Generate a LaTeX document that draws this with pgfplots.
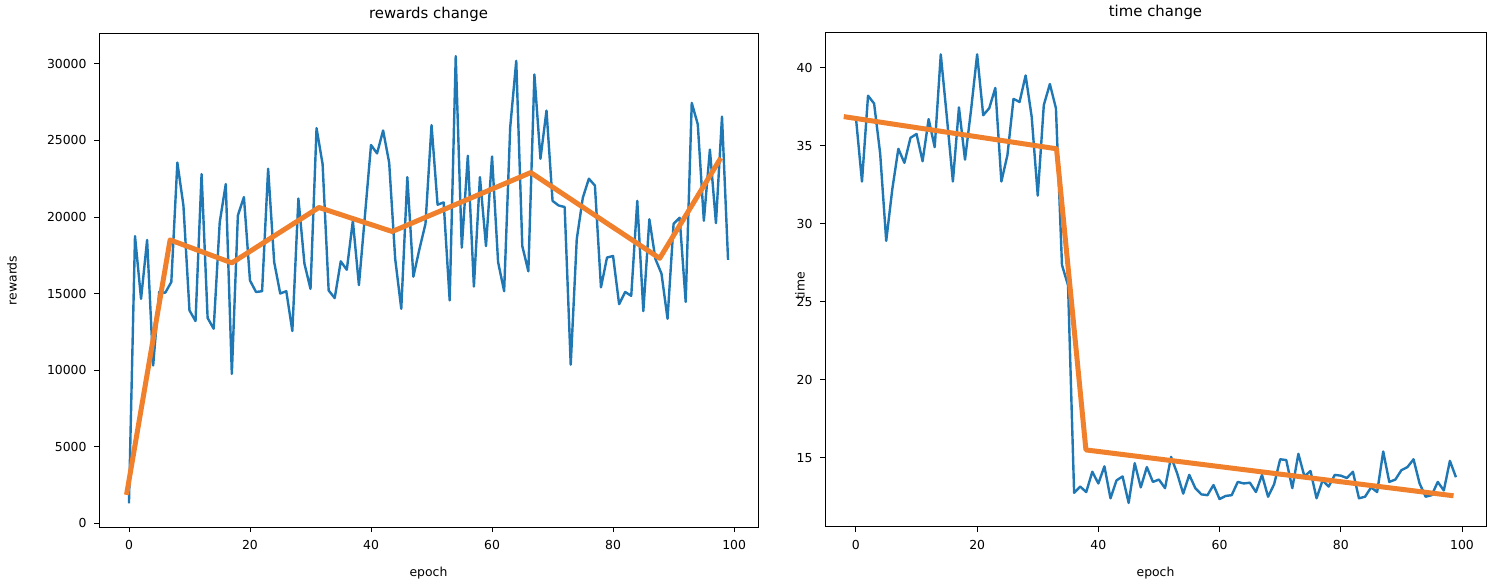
\documentclass[border=0pt]{standalone}
\usepackage{fontspec}
\setmainfont{DejaVu Sans}
\usepackage{pgfplots}
\pgfplotsset{compat=1.18}
\definecolor{mplblue}{HTML}{1F77B4}
\definecolor{mplorange}{RGB}{240,128,44}

% reward per epoch
\pgfplotstableread{
x y
0 1300
1 18750
2 14650
3 18500
4 10300
5 15100
6 15050
7 15750
8 23550
9 20750
10 13900
11 13200
12 22800
13 13400
14 12700
15 19650
16 22150
17 9750
18 20100
19 21300
20 15850
21 15100
22 15150
23 23150
24 17050
25 15000
26 15150
27 12550
28 21200
29 16950
30 15300
31 25800
32 23450
33 15200
34 14700
35 17100
36 16550
37 19750
38 15550
39 20100
40 24700
41 24150
42 25650
43 23550
44 17250
45 14000
46 22600
47 16100
48 17900
49 19550
50 26000
51 20800
52 20950
53 14550
54 30500
55 18000
56 24000
57 15450
58 22600
59 18100
60 23950
61 17050
62 15150
63 25850
64 30200
65 18100
66 16450
67 29300
68 23800
69 26950
70 21050
71 20750
72 20650
73 10350
74 18550
75 21250
76 22500
77 22050
78 15400
79 17350
80 17450
81 14300
82 15100
83 14850
84 21050
85 13850
86 19850
87 17250
88 16300
89 13350
90 19550
91 19950
92 14450
93 27450
94 26050
95 19750
96 24400
97 19600
98 26550
99 17200
}\rewards

% time per epoch
\pgfplotstableread{
x y
0 36.8
1 32.7
2 38.2
3 37.7
4 34.5
5 28.9
6 32.2
7 34.8
8 33.9
9 35.5
10 35.75
11 34.0
12 36.7
13 34.9
14 40.85
15 36.85
16 32.7
17 37.45
18 34.1
19 37.3
20 40.85
21 36.95
22 37.4
23 38.7
24 32.7
25 34.4
26 38.0
27 37.8
28 39.5
29 36.85
30 31.8
31 37.6
32 38.95
33 37.4
34 27.35
35 26.05
36 12.75
37 13.15
38 12.8
39 14.1
40 13.35
41 14.45
42 12.4
43 13.55
44 13.8
45 12.1
46 14.65
47 13.1
48 14.4
49 13.45
50 13.6
51 13.05
52 15.05
53 14.0
54 12.7
55 13.9
56 13.05
57 12.65
58 12.6
59 13.25
60 12.35
61 12.55
62 12.6
63 13.45
64 13.35
65 13.4
66 12.8
67 13.9
68 12.5
69 13.3
70 14.9
71 14.85
72 13.05
73 15.25
74 13.8
75 14.15
76 12.4
77 13.55
78 13.15
79 13.9
80 13.85
81 13.7
82 14.1
83 12.4
84 12.5
85 13.1
86 12.8
87 15.4
88 13.45
89 13.6
90 14.2
91 14.4
92 14.9
93 13.35
94 12.5
95 12.6
96 13.45
97 12.9
98 14.8
99 13.75
}\times

\pgfplotsset{
  mpl/.style={
    scale only axis,
    axis line style={black, line width=1bp},
    tick align=outside,
    tick pos=left,
    major tick length=5bp,
    tick style={black, line width=0.9bp},
    xtick={0,20,...,100},
    ticklabel style={font=\fontsize{12.4bp}{15bp}\selectfont},
    xticklabel style={yshift=-5bp},
    yticklabel style={xshift=-4bp},
    /pgf/number format/assume math mode=true,
    /pgf/number format/1000 sep={},
    scaled ticks=false,
    every axis title shift=0pt,
    label style={font=\fontsize{12.4bp}{15bp}\selectfont},
    title style={font=\fontsize{14.9bp}{18bp}\selectfont, anchor=center},
    xlabel style={at={(axis description cs:0.5,-0.093)}, anchor=center},
  },
  blueline/.style={mplblue, line width=2.4bp, line join=round, no markers},
  orangeline/.style={mplorange, line width=5bp, line join=round, no markers},
}

\begin{document}
\begin{tikzpicture}
\useasboundingbox (0,0) rectangle (1495bp,587bp);

\begin{axis}[mpl,
  at={(99bp,60bp)}, anchor=south west,
  width=659bp, height=493bp,
  xmin=-4.95, xmax=103.95,
  ymin=-250, ymax=31950,
  ytick={0,5000,...,30000},
  title={rewards change},
  title style={at={(axis description cs:0.5,1.0406)}},
  xlabel={epoch}, ylabel={rewards},
  ylabel style={at={(axis description cs:-0.132,0.5)}, anchor=center},
]
\addplot[blueline] table {\rewards};
\addplot[orangeline] coordinates {
  (-0.4, 1850) (6.8, 18500) (17, 17000) (31.4, 20620)
  (43.5, 19050) (66.4, 22900) (87.7, 17300) (97.8, 23850)
};
\end{axis}

\begin{axis}[mpl,
  at={(825bp,60bp)}, anchor=south west,
  width=661bp, height=494bp,
  xmin=-5.1, xmax=103.96,
  ymin=10.56, ymax=42.22,
  ytick={15,20,...,40},
  title={time change},
  title style={at={(axis description cs:0.5,1.0425)}},
  xlabel={epoch}, ylabel={time},
  ylabel style={at={(axis description cs:-0.038,0.488)}, anchor=center},
]
\addplot[blueline] table {\times};
\addplot[orangeline] coordinates {
  (-2, 36.86) (33.1, 34.8) (37.95, 15.5) (98.6, 12.56)
};
\end{axis}
\end{tikzpicture}
\end{document}
